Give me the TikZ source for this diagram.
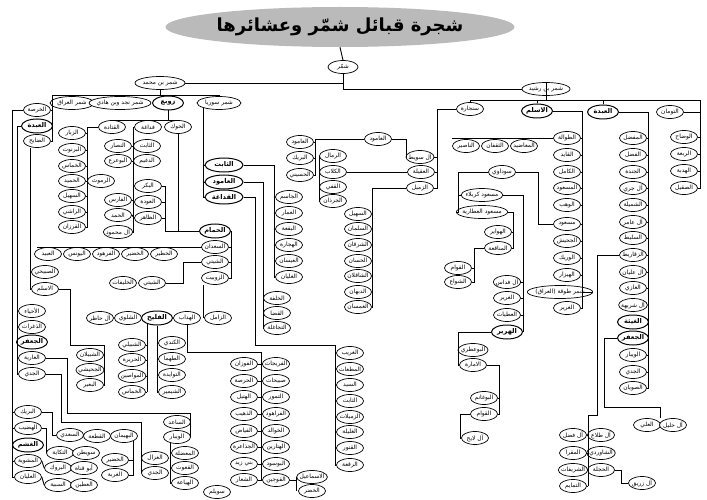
\documentclass[tikz,border=0pt]{standalone}
\usepackage{fontspec}
\usetikzlibrary{shapes.geometric,calc}
\newfontfamily\ar[Script=Arabic]{DejaVu Sans}
\TeXXeTstate=1
\tikzset{
 nd/.style={ellipse, draw, fill=white, line width=0.7pt, inner xsep=-1.6pt, inner ysep=0pt, minimum width=27pt, minimum height=13pt, font=\ar\fontsize{5.9}{6.5}\selectfont, execute at begin node=\beginR, execute at end node=\endR},
 bd/.style={nd, font=\ar\bfseries\fontsize{6.6}{7}\selectfont, line width=1pt, minimum width=31pt, minimum height=14pt},
 tt/.style={ellipse, fill=black!27, inner sep=0pt, minimum width=236pt, minimum height=40pt, font=\ar\bfseries\fontsize{18}{19}\selectfont, execute at begin node=\beginR, execute at end node=\endR},
 ln/.style={line width=0.9pt}
}
\newcommand\myE[2]{\foreach \n in {#1} {\draw[ln] (\n.east) -- (\n.east -| #2);}}
\newcommand\myW[2]{\foreach \n in {#1} {\draw[ln] (\n.west) -- (\n.west -| #2);}}
\begin{document}
\begin{tikzpicture}[x=1pt,y=-1pt]
\useasboundingbox (0,0) rectangle (707,500);
% ---------- top
\node[tt] (title) at (340,27) {شجرة قبائل شمّر وعشائرها};
\node[nd,minimum width=30pt] (shammar) at (343,67) {شمّر};
\node[nd,minimum width=50pt] (smhm) at (160,83) {شمر بن محمد};
\node[nd,minimum width=48pt] (srsh) at (546,89) {شمر بن رشيد};
\node[nd,minimum width=44pt] (siraq) at (72,103) {شمر العراق};
\node[nd,minimum width=46pt] (snajd) at (120,103) {شمر نجد وبن هادي};
\node[bd] (zoba) at (168,103) {زوبع};
\node[nd,minimum width=44pt] (ssur) at (219,103) {شمر سوريا};
\node[nd] (kharsa) at (37,110) {الخرصة};
\node[bd] (abda1) at (37,126) {العبدة};
\node[nd] (dayeh) at (37,141) {الضايح};
% ---------- zoba
\node[nd] (qatada) at (112,127) {القتادة};
\node[nd] (fadagha) at (148,127) {فداغة};
\node[nd] (hawk) at (178,127) {الحوك};
\node[nd] (zabbar) at (72,133) {الزبار};
\node[nd] (barnout) at (72,150) {البرنوت};
\node[nd] (khamas) at (72,166) {الخماس};
\node[nd] (hameed) at (72,181) {الحميد};
\node[nd] (suhail1) at (72,196) {السهيل};
\node[nd] (rashi) at (72,212) {الراشي};
\node[nd] (qurzan) at (72,227) {القرزان};
\node[nd] (rmouth) at (101,181) {الرموث};
\node[nd] (nassar) at (118,146) {النصار};
\node[nd] (thabit1) at (147,146) {الثابت};
\node[nd] (bouarea) at (118,161) {البوعرع};
\node[nd] (dughaim) at (147,161) {الدغيم};
\node[nd] (faris) at (118,200) {الفارس};
\node[nd] (hamad) at (118,215) {الحمد};
\node[nd] (mahmoud) at (118,232) {آل محمود};
\node[nd] (bakr) at (148,186) {البكر};
\node[nd] (awda) at (148,202) {العودة};
\node[nd] (dhahir) at (148,218) {الظاهر};
\node[bd] (hammam) at (215,231) {الحمام};
\node[nd] (saadan) at (215,247) {السعدان};
\node[nd] (shaiti1) at (215,262) {الشيتي};
\node[nd] (zubait) at (215,278) {الزوبيت};
\node[nd] (obaid) at (48,254) {العبيد};
\node[nd] (younis) at (77,254) {اليونس};
\node[nd] (farhoud) at (106,254) {الفرهود};
\node[nd] (khudair1) at (135,254) {الخضير};
\node[nd] (khatir) at (164,254) {الخطير};
\node[nd] (shaiti2) at (152,283) {الشيتي};
\node[nd] (khulaifat) at (123,283) {الخليفات};
\node[nd] (subeihi) at (45,272) {الصبيحي};
\node[nd] (aslam1) at (45,289) {الاسلم};
\node[nd] (ahya) at (32,311) {الأحياء};
\node[nd] (dhaghrat) at (32,327) {الذغرات};
\node[bd] (jafar1) at (32,342) {الجعفر};
\node[nd] (ariya) at (32,358) {العارية};
\node[nd] (jidi1) at (32,374) {الجدي};
\node[nd] (hadhir) at (100,318) {آل حاظر};
\node[nd] (shalwi) at (128,318) {الشلوي};
\node[bd] (fulaih) at (157,318) {الفليح};
\node[nd] (haddab) at (187,318) {الهداب};
\node[nd] (zamil) at (218,318) {الزامل};
\node[nd] (shbilan) at (90,355) {الشبيلان};
\node[nd] (juhaishi1) at (90,370) {الجحيشي};
\node[nd] (baeer) at (90,385) {البعير};
\node[nd] (shbaili) at (132,345) {الشبيلي};
\node[nd] (harira) at (132,360) {الحريرة};
\node[nd] (mawasin) at (132,376) {المواصين};
\node[nd] (khammas2) at (132,392) {الخماس};
\node[nd] (kindi) at (172,343) {الكندي};
\node[nd] (tahma) at (172,359) {الطهما};
\node[nd] (tawaida) at (172,375) {التوايدة};
\node[nd] (shmeer) at (172,392) {الشيمير};
\node[nd] (saed) at (177,422) {الساعد};
\node[nd] (wbar) at (177,437) {الويبار};
\node[nd] (mudhila) at (185,453) {المعضلة};
\node[nd] (qaoot) at (185,468) {القعوت};
\node[nd] (hiyaa) at (185,483) {الهياعة};
\node[nd] (ghazal) at (155,458) {الغزال};
\node[nd] (jidi2) at (155,473) {الجدي};
% ---------- bottom left
\node[nd] (bareek) at (28,412) {البريك};
\node[nd] (hadheeb) at (28,428) {الهضيب};
\node[bd] (ghashm) at (28,445) {الغشم};
\node[nd] (mashwiya) at (28,461) {المشوية};
\node[nd] (olayan) at (28,477) {العليان};
\node[nd] (saadi) at (70,435) {السعدي};
\node[nd] (qitaa) at (97,436) {القطعة};
\node[nd] (buhaiman) at (124,436) {البهيمان};
\node[nd] (khudair2) at (115,460) {الخضير};
\node[nd] (ghurba) at (115,475) {الغربة};
\node[nd] (takaya) at (60,453) {التكاية};
\node[nd] (suwaitin) at (86,453) {سويطن};
\node[nd] (burook) at (58,468) {البروك};
\node[nd] (qanat) at (84,468) {أبو قناة};
\node[nd] (sabiya) at (58,485) {السبية};
\node[nd] (atin) at (84,485) {العطين};
% ---------- double column
\node[nd] (fowzan) at (244,364) {الفوزان};
\node[nd] (harsa) at (244,381) {الحرصة};
\node[nd] (hutail) at (244,397) {الهتيل};
\node[nd] (dhuhaib) at (244,414) {الذهيب};
\node[nd] (fayyadh) at (244,431) {الفياض};
\node[nd] (jadhaara) at (244,447) {الجذاعرة};
\node[nd] (banizaid) at (244,464) {بني زيد};
\node[nd] (shaar) at (244,480) {الشعار};
\node[nd] (furaijat) at (276,364) {الفريجات};
\node[nd] (subaihat) at (276,381) {صبيحات};
\node[nd] (tumour) at (276,397) {التمور};
\node[nd] (farahood) at (276,414) {الفراهود};
\node[nd] (khawalid) at (276,431) {الخوالد};
\node[nd] (hatarin) at (276,447) {الهتارين};
\node[nd] (bousood) at (276,464) {البوسود};
\node[nd] (qujain) at (276,480) {القوجين};
\node[nd] (ismail) at (312,477) {الاسماعيل};
\node[nd] (khidr) at (312,491) {الخضر};
\node[nd] (suwailim) at (217,492) {سويلم};
% ---------- ghareeb column
\node[nd] (ghareeb) at (350,353) {الغريب};
\node[nd] (mutaat) at (350,369) {المطعات};
\node[nd] (sayyid) at (350,385) {السيد};
\node[nd] (thabit2) at (350,401) {الثابت};
\node[nd] (zumailat) at (350,417) {الزميلات};
\node[nd] (ghalila) at (350,432) {الغليلة};
\node[nd] (qunour) at (350,448) {القنور};
\node[nd] (ruqaa) at (350,465) {الرقعة};
% ---------- syria
\node[bd,minimum width=38pt] (thabitB) at (224,165) {الثابت};
\node[bd,minimum width=38pt] (amoodB) at (224,182) {العامود};
\node[bd,minimum width=38pt] (qadagha) at (224,197) {القداغة};
\node[nd] (jasim) at (289,197) {الجاسم};
\node[nd] (ammar) at (289,213) {العمار};
\node[nd] (buqaa) at (289,229) {البقعة};
\node[nd] (hajjara) at (289,245) {الهجارة};
\node[nd] (eesan) at (289,261) {العيسان};
\node[nd] (ghilyan) at (289,277) {الغليان};
\node[nd] (khalfa) at (277,298) {الخلفة};
\node[nd] (qadha) at (277,313) {القضا};
\node[nd] (tajaghla) at (277,328) {التجاغلة};
% ---------- middle
\node[nd] (amood2) at (378,139) {العامود};
\node[nd] (amood3) at (300,142) {العامود};
\node[nd] (bureik) at (300,158) {البريك};
\node[nd] (husaini) at (300,175) {الحسيني};
\node[nd] (ramal) at (333,156) {الرمال};
\node[nd] (kilab) at (333,172) {الكلاب};
\node[nd] (qaffi) at (333,187) {القفي};
\node[nd] (jurdhan) at (333,201) {الجرذان};
\node[nd] (suwait) at (420,157) {آل سويط};
\node[nd] (uqaila) at (421,172) {العقيلة};
\node[nd] (zumail) at (420,188) {الزميل};
\node[nd] (suhail2) at (358,214) {السهيل};
\node[nd] (salman) at (358,229) {السلمان};
\node[nd] (sharqan) at (358,245) {الشرقان};
\node[nd] (hassan) at (358,261) {الحسان};
\node[nd] (shaqlan) at (358,276) {الشاقلان};
\node[nd] (dibhan) at (358,292) {الدبهان};
\node[nd] (ghamsan) at (358,307) {الغمسان};
% ---------- ibn rashid
\node[nd] (sinjara) at (470,109) {سنجارة};
\node[bd] (aslam2) at (537,111) {الاسلم};
\node[bd] (abda2) at (603,112) {العبدة};
\node[nd] (tuman) at (670,112) {التومان};
\node[nd] (nasir) at (466,146) {الناصير};
\node[nd] (thaqfan) at (495,146) {الثقفان};
\node[nd] (maadeed) at (524,146) {المعاضيد};
\node[nd] (sudawi) at (502,172) {سوداوي};
\node[nd] (karbala) at (482,195) {مسعود كربلاء};
\node[nd] (atariya) at (482,212) {مسعود العطارية};
\node[nd] (hawayir) at (498,232) {الهواير};
\node[nd] (manaqaa) at (498,248) {المناقعة};
\node[nd] (qawam1) at (458,268) {القوام};
\node[nd] (shawaa) at (458,282) {الشواع};
\node[nd] (fadas) at (507,282) {آل فداس};
\node[nd] (gharir2) at (507,298) {الغرير};
\node[nd] (atiyat) at (507,315) {العطيات};
\node[bd] (harir) at (507,332) {الهرير};
\node[nd] (bouatri) at (473,350) {البوعطري};
\node[nd] (imara) at (473,365) {الامارة};
\node[nd] (bughanim) at (484,398) {البوغانم};
\node[nd] (qawam2) at (484,414) {القوام};
\node[nd] (laih) at (475,438) {آل لايح};
% aslam column
\node[nd] (tawala) at (567,138) {الطوالة};
\node[nd] (qayid) at (567,155) {القايد};
\node[nd] (kamil) at (567,172) {الكامل};
\node[nd] (masood1) at (567,188) {المسعود};
\node[nd] (wahab) at (567,205) {الوهب};
\node[nd] (masood2) at (567,224) {مسعود};
\node[nd] (juhaish) at (567,241) {الجحيش};
\node[nd] (wareek) at (567,258) {الوريك};
\node[nd] (haizar) at (567,275) {الهيزار};
\node[nd,minimum width=46pt] (tuqa) at (560,292) {شمر طوقة (العراق)};
\node[nd] (gharir1) at (567,308) {الغرير};
% abda column
\node[nd] (mufaddal) at (633,138) {المفضل};
\node[nd] (fadl) at (633,155) {الفضل};
\node[nd] (jandah) at (633,172) {الجندة};
\node[nd] (jari) at (633,188) {آل جري};
\node[nd] (shumaila) at (633,205) {الشميلة};
\node[nd] (amir) at (633,222) {آل عامر};
\node[nd] (sulait) at (633,238) {السليط};
\node[nd] (zaqarit) at (633,255) {الزقاريط};
\node[nd] (ulayan) at (633,272) {آل عليان};
\node[nd] (ghazi) at (633,288) {الغازي};
\node[nd] (shuraiha) at (633,305) {آل شريهة};
\node[bd] (ghaitha) at (633,322) {الغيثة};
\node[bd] (jafar2) at (633,338) {الجعفر};
\node[nd] (waibar) at (633,355) {الويبار};
\node[nd] (jidi3) at (633,372) {الجدي};
\node[nd] (suwayan) at (633,388) {الصويان};
\node[nd] (alfadl) at (573,435) {آل فضل};
\node[nd] (muqra) at (573,453) {المقرا};
\node[nd] (sharifat) at (573,470) {الشريفات};
\node[nd] (tamayim) at (573,486) {التمايم};
\node[nd] (tala) at (601,435) {آل طلاع};
\node[nd] (shawardi) at (601,453) {الشاوردي};
\node[nd] (hajla) at (601,470) {الحجلة};
\node[nd] (zuraiq) at (642,483) {آل زريق};
\node[nd] (ali) at (647,425) {العلي};
\node[nd] (khalil) at (673,425) {آل خليل};
% tuman column
\node[nd] (wadhah) at (684,137) {الوضاح};
\node[nd] (rubaa) at (684,154) {الربعة};
\node[nd] (hadiya) at (684,171) {الهدبة};
\node[nd] (suqail) at (684,188) {الصقيل};

% ================= connectors
\draw[ln] (title.south) -- (shammar.north);
\draw[ln] (shammar.south) |- (smhm.east);
\draw[ln] (shammar.south) |- (srsh.west);
% shammar bin mohammed
\coordinate (a95) at (52,95);
\draw[ln] (smhm.south) -- (smhm.south |- a95);
\draw[ln] (a95) -- (a95 -| ssur.north);
\foreach \n in {siraq,snajd,zoba,ssur} {\draw[ln] (\n.north) -- (\n.north |- a95);}
\draw[ln] (a95) |- (dayeh.east);
\myE{kharsa,abda1}{a95}
% far left verticals
\coordinate (vA) at (12,0);
\draw[ln] (kharsa.west) -| (vA |- olayan.west) -- (olayan.west);
\myW{bareek,hadheeb,ghashm,mashwiya}{vA}
\coordinate (vB) at (17,0);
\draw[ln] (abda1.west) -| (vB |- jidi1.west) -- (jidi1.west);
\myW{ahya,dhaghrat,jafar1,ariya}{vB}
\coordinate (vC) at (30,0);
\draw[ln] (vC |- dayeh.south) -- (vC |- aslam1.west) -- (aslam1.west);
\myW{subeihi}{vC}
\coordinate (c70) at (70,345);
\coordinate (c104) at (104,345);
\draw[ln] (aslam1.east) -| (c70) -- (c104) |- (baeer.east);
\myE{shbilan,juhaishi1}{c104}
% zoba
\coordinate (z120) at (112,120.5);
\draw[ln] (zoba.south) -- (zoba.south |- z120);
\draw[ln] (qatada.north |- z120) -- (hawk.north |- z120);
\coordinate (v87) at (87,0);
\draw[ln] (qatada.west) -| (v87 |- qurzan.east) -- (qurzan.east);
\myE{zabbar,barnout,khamas,hameed,suhail1,rashi}{v87}
\myW{rmouth}{v87}
\coordinate (v133) at (133,0);
\draw[ln] (fadagha.west) -| (v133 |- mahmoud.east) -- (mahmoud.east);
\myE{nassar,bouarea,faris,hamad}{v133}
\myW{thabit1,dughaim}{v133}
\draw[ln] (hamad.east) -- (dhahir.west);
\coordinate (v165) at (165,0);
\draw[ln] (hawk.south) |- (hammam.west);
\draw[ln] (bakr.east) -| (v165 |- hammam.west) -- (hammam.west);
\myE{awda,dhahir}{v165}
\coordinate (v231) at (231,0);
\draw[ln] (hammam.east) -| (v231 |- zubait.east) -- (zubait.east);
\myE{saadan,shaiti1}{v231}
\coordinate (r247) at (37,247.5);
\draw[ln] (saadan.west) -- (saadan.west |- r247) -- (r247);
\draw[ln] (shaiti1.west) -- ++(-18,0) |- (shaiti2.east);
\coordinate (j203) at (203,318);
\draw[ln] (j203) -- (j203 |- zubait.south);
\coordinate (s147) at (147,324);
\draw[ln] (s147) -- (s147 |- khammas2.east);
\myE{shbaili,harira,mawasin,khammas2}{s147}
\draw[ln] (fulaih.south) |- (shmeer.west);
\myW{kindi,tahma,tawaida}{fulaih.south}
\coordinate (sp) at (261,352);
\draw[ln] (haddab.south) |- (sp) -- (sp |- shaar.east);
\myE{fowzan,harsa,hutail,dhuhaib,fayyadh,jadhaara,banizaid,shaar}{sp}
\myW{furaijat,subaihat,tumour,farahood,khawalid,hatarin,bousood,qujain}{sp}
\draw[ln] (qujain.east) -- (qujain.east -| ismail.west);
\draw[ln] (ismail.west) -- (khidr.west -| ismail.west);
% bottom-left links
\draw[ln] (ariya.east) -- ++(22,0) -- ++(0,55) -| (wbar.east);
\myE{saed}{wbar.east}
\draw[ln] (jidi1.east) -- ++(16,0) -- ++(0,48) -| (jidi2.west);
\myW{ghazal}{jidi2.west}
\coordinate (wv) at (170,442.5);
\draw[ln] (wv) -- (wv |- hiyaa.west) -- (hiyaa.west);
\myW{mudhila,qaoot}{wv}
\draw[ln] (bareek.east) -- ++(11,0) |- (saadi.west);
\draw[ln] (khudair2.east) -| (buhaiman.south east);
\draw[ln] (ghurba.east) -| (buhaiman.south east);
\draw[ln] (hadheeb.east) -| (takaya.west);
\draw[ln] (mashwiya.east) -- (burook.west);
\draw[ln] (olayan.east) -- (sabiya.west);
% syria
\coordinate (v204) at (ssur.south west);
\draw[ln] (v204) -- (v204 |- qadagha.west) -- (qadagha.west);
\myW{thabitB,amoodB}{v204}
\coordinate (v274) at (274,0);
\draw[ln] (thabitB.east) -| (v274 |- ghilyan.west) -- (ghilyan.west);
\myW{jasim,ammar,buqaa,hajjara,eesan}{v274}
\coordinate (v263) at (263,0);
\draw[ln] (amoodB.east) -| (v263 |- tajaghla.west) -- (tajaghla.west);
\myW{khalfa,qadha}{v263}
\coordinate (c255) at (255,345);
\coordinate (c335) at (335,345);
\draw[ln] (qadagha.east) -| (c255) -- (c335) |- (ruqaa.west);
\myW{ghareeb,mutaat,sayyid,thabit2,zumailat,ghalila,qunour}{c335}
% middle
\coordinate (v315) at (315,0);
\draw[ln] (amood2.west) -| (v315 |- husaini.east) -- (husaini.east);
\myE{amood3,bureik}{v315}
\draw[ln] (amood2.east) -- ++(15,0) |- (suwait.west);
\coordinate (v319) at (319,0);
\draw[ln] (v319 |- ramal.west) -- (v319 |- jurdhan.west);
\myW{ramal,kilab,qaffi,jurdhan}{v319}
\draw[ln] (kilab.east) -- (uqaila.west);
\coordinate (v372) at (372,0);
\draw[ln] (zumail.west) -| (v372 |- ghamsan.east) -- (ghamsan.east);
\myE{suhail2,salman,sharqan,hassan,shaqlan,dibhan}{v372}
\coordinate (v437) at (437,0);
\draw[ln] (sinjara.west) -| (v437 |- zumail.east) -- (zumail.east);
\myE{suwait,uqaila}{v437}
% ibn rashid
\coordinate (h1) at (470,100);
\coordinate (h2) at (700,100);
\draw[ln] (h1) -- (h2);
\foreach \n in {sinjara,srsh,aslam2,abda2} {\draw[ln] (\n.north) -- (\n.north |- h1);}
\draw[ln] (srsh.south) -- (srsh.south |- h1);
\draw[ln] (tuman.east) -- (tuman.east -| h2);
\draw[ln] (h2) |- (suqail.east);
\myE{wadhah,rubaa,hadiya}{h2}
\coordinate (v582) at (582,0);
\draw[ln] (aslam2.east) -| (v582 |- gharir1.east) -- (gharir1.east);
\myE{tawala,qayid,kamil,masood1,wahab,masood2,juhaish,wareek,haizar,tuqa}{v582}
\draw[ln] (tawala.west) -- (tawala.west -| nasir.west);
\foreach \n in {nasir,thaqfan,maadeed} {\draw[ln] (\n.north) -- (\n.north |- tawala.west);}
\draw[ln] (masood2.west) -- ++(-15,0) |- (sudawi.east);
\coordinate (v458) at (458,0);
\draw[ln] (sudawi.west) -| (v458 |- atariya.west) -- (atariya.west);
\myW{karbala}{v458}
\coordinate (v523) at (523,0);
\draw[ln] (karbala.east) -| (v523 |- harir.east) -- (harir.east);
\myE{fadas,gharir2,atiyat}{v523}
\coordinate (v513) at (513,0);
\draw[ln] (atariya.east) -| (v513 |- manaqaa.east) -- (manaqaa.east);
\myE{hawayir}{v513}
\coordinate (v474) at (474,0);
\draw[ln] (manaqaa.west) -| (v474 |- shawaa.east) -- (shawaa.east);
\myE{qawam1}{v474}
\draw[ln] (harir.west) -| (v458 |- imara.west) -- (imara.west);
\myW{bouatri}{v458}
\coordinate (v498) at (499,0);
\draw[ln] (imara.east) -| (v498 |- qawam2.east) -- (qawam2.east);
\myE{bughanim}{v498}
\coordinate (v460) at (460,0);
\draw[ln] (qawam2.west) -| (v460 |- laih.west) -- (laih.west);
\coordinate (v648) at (648,0);
\draw[ln] (abda2.east) -| (v648 |- suwayan.east) -- (suwayan.east);
\myE{mufaddal,fadl,jandah,jari,shumaila,amir,sulait,zaqarit,ulayan,ghazi,shuraiha,ghaitha,jafar2,waibar,jidi3}{v648}
\coordinate (c597) at (597,415);
\coordinate (c588) at (588,415);
\draw[ln] (zaqarit.west) -| (c597) -- (c588) -- (c588 |- tamayim.east);
\myE{alfadl,muqra,sharifat,tamayim}{c588}
\myW{tala,shawardi,hajla}{c588}
\draw[ln] (hajla.east) -- ++(7,0) |- (zuraiq.west);
\coordinate (c604) at (604,407);
\coordinate (c660) at (660,407);
\draw[ln] (jafar2.west) -| (c604) -- (c660) -- (c660 |- ali.north);
\end{tikzpicture}
\end{document}
